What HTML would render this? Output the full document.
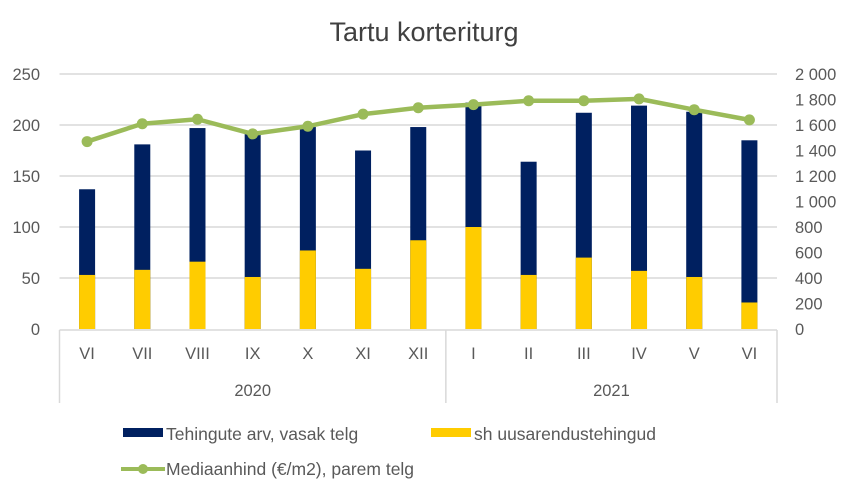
<!DOCTYPE html>
<html><head><meta charset="utf-8"><style>
body{margin:0;background:#fff;font-family:"Liberation Sans",sans-serif;}
svg text{font-family:"Liberation Sans",sans-serif;fill:#595959;}
</style></head><body>
<svg id="chart" width="849" height="493" xmlns="http://www.w3.org/2000/svg">
<text x="424" y="41" text-anchor="middle" font-size="27" style="fill:#404040">Tartu korteriturg</text>
<g id="grid"></g><g id="bars"></g><g id="line"></g><g id="axes"></g>
<g>
<rect x="123" y="428" width="40" height="9" fill="#002060"/>
<text x="166" y="440" font-size="17.5">Tehingute arv, vasak telg</text>
<rect x="431" y="428" width="40" height="9" fill="#FFCC00"/>
<text x="474" y="440" font-size="17.5">sh uusarendustehingud</text>
<line x1="121" y1="469" x2="165" y2="469" stroke="#9BBB59" stroke-width="4"/>
<circle cx="143" cy="469" r="5" fill="#9BBB59"/>
<text x="166" y="475" font-size="17.5">Mediaanhind (€/m2), parem telg</text>
</g>
</svg>
<script>
const months=["VI","VII","VIII","IX","X","XI","XII","I","II","III","IV","V","VI"];
const years=["2020","2021"];
const deals=[137,181,197,192,198,175,198,222,164,212,219,213,185];
const newDeals=[53,58,66,51,77,59,87,100,53,70,57,51,26];
const price=[1470,1610,1645,1530,1590,1685,1735,1760,1790,1790,1805,1720,1640];
const leftTicks=[0,50,100,150,200,250];
const rightTicks=["0","200","400","600","800","1 000","1 200","1 400","1 600","1 800","2 000"];
const NS="http://www.w3.org/2000/svg";
const X0=59.5,X1=777,Y0=329,Y1=74;
const cw=(X1-X0)/months.length;
const xc=i=>X0+cw*(i+0.5);
const yL=v=>Y0-(v/250)*(Y0-Y1);
const yR=v=>Y0-(v/2000)*(Y0-Y1);
function mk(tag,attrs,parent){const e=document.createElementNS(NS,tag);for(const k in attrs)e.setAttribute(k,attrs[k]);document.getElementById(parent).appendChild(e);return e;}
leftTicks.forEach(t=>{
 if(t>0){const g=mk('line',{x1:X0,x2:X1,y1:yL(t),y2:yL(t),stroke:'#d9d9d9','stroke-width':1.5},'grid');
 
 }
 const tx=mk('text',{x:40,y:yL(t)+6,'text-anchor':'end','font-size':16.5},'axes');tx.textContent=t;
 
 
});
rightTicks.forEach((t,i)=>{
 const tx=mk('text',{x:795,y:yR(i*200)+6,'font-size':16.5},'axes');tx.textContent=t;
 
 
});
const bw=16;
months.forEach((m,i)=>{
 const b=mk('rect',{x:xc(i)-bw/2,y:yL(deals[i]),width:bw,height:Y0-yL(deals[i]),fill:'#002060'},'bars');
 
 
 const y=mk('rect',{x:xc(i)-bw/2,y:yL(newDeals[i]),width:bw,height:Y0-yL(newDeals[i]),fill:'#FFCC00'},'bars');
 
 
 const tx=mk('text',{x:xc(i),y:359,'text-anchor':'middle','font-size':16.5},'axes');tx.textContent=m;
 
 
});
const pl=mk('polyline',{points:price.map((p,i)=>xc(i)+','+yR(p)).join(' '),fill:'none',stroke:'#9BBB59','stroke-width':4.5,'stroke-linejoin':'round'},'line');


price.forEach((p,i)=>{
 const c=mk('circle',{cx:xc(i),cy:yR(p),r:5.5,fill:'#9BBB59'},'line');
 
 
});
const ax=mk('line',{x1:X0,x2:X1,y1:Y0+1,y2:Y0+1,stroke:'#d9d9d9','stroke-width':1.5},'axes');


[0,7,13].forEach(i=>{
 const l=mk('line',{x1:X0+cw*i,x2:X0+cw*i,y1:Y0+1,y2:403,stroke:'#d9d9d9','stroke-width':1.5},'axes');
 
 
});
[[0,7],[7,13]].forEach((r,k)=>{
 const tx=mk('text',{x:X0+cw*(r[0]+r[1])/2,y:396,'text-anchor':'middle','font-size':16.5},'axes');tx.textContent=years[k];
 
 
});
</script>
</body></html>
